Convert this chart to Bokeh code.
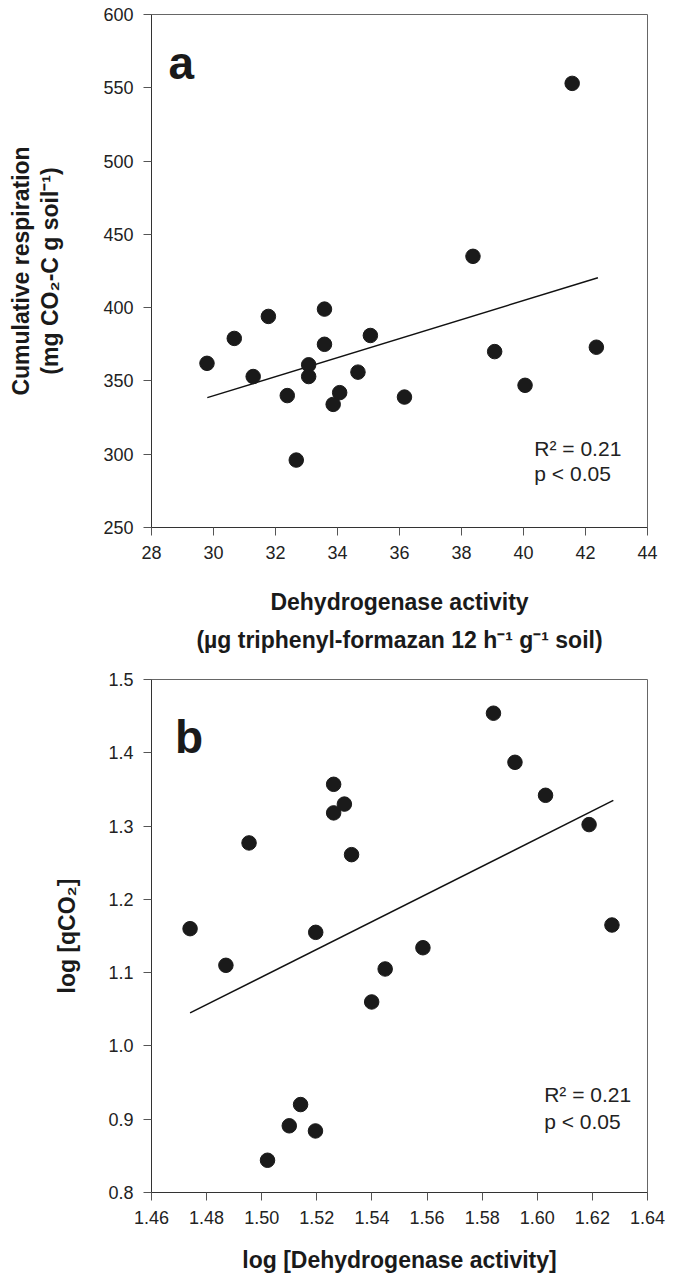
from bokeh.plotting import figure
from bokeh.layouts import column
from bokeh.models import (Range1d, LinearAxis, FixedTicker, Label,
                          NumeralTickFormatter, ColumnDataSource)
from bokeh.embed import file_html
from bokeh.resources import INLINE

# ---------------- data ----------------
# Panel a: dehydrogenase activity vs cumulative respiration
dh_activity = [29.79, 30.67, 31.28, 31.77, 32.38, 32.67, 33.07, 33.07, 33.58, 33.58,
               33.86, 34.07, 34.66, 35.06, 36.16, 38.37, 39.07, 40.05, 41.57, 42.35]
cum_resp = [362, 379, 353, 394, 340, 296, 361, 353, 399, 375,
            334, 342, 356, 381, 339, 435, 370, 347, 553, 373]
fit_a_x = [29.8, 42.4]
fit_a_y = [338.6, 420.4]
xticks_a = [28, 30, 32, 34, 36, 38, 40, 42, 44]
yticks_a = [250, 300, 350, 400, 450, 500, 550, 600]

# Panel b: log dehydrogenase vs log qCO2
log_dh = [1.474, 1.487, 1.4954, 1.5021, 1.510, 1.5141, 1.5195, 1.5196, 1.5261, 1.5261,
          1.530, 1.5326, 1.5399, 1.5448, 1.5585, 1.5841, 1.5919, 1.603, 1.6188, 1.6271]
log_qco2 = [1.160, 1.110, 1.277, 0.844, 0.891, 0.920, 0.884, 1.155, 1.357, 1.318,
            1.330, 1.261, 1.060, 1.105, 1.134, 1.454, 1.387, 1.342, 1.302, 1.165]
fit_b_x = [1.474, 1.6276]
fit_b_y = [1.045, 1.335]
xticks_b = [1.46, 1.48, 1.50, 1.52, 1.54, 1.56, 1.58, 1.60, 1.62, 1.64]
yticks_b = [0.8, 0.9, 1.0, 1.1, 1.2, 1.3, 1.4, 1.5]

stats_text = ["R² = 0.21", "p < 0.05"]

FONT = "Liberation Sans"
DOT = "#1a1a1a"


def base_axis_style(ax, ticks, fmt=None):
    ax.ticker = FixedTicker(ticks=ticks)
    if fmt:
        ax.formatter = NumeralTickFormatter(format=fmt)
    ax.major_label_text_font = FONT
    ax.major_label_text_font_size = "18px"
    ax.major_label_text_color = "#222222"
    ax.major_tick_in = 0
    ax.major_tick_out = 8
    ax.major_tick_line_color = "#555555"
    ax.minor_tick_line_color = None
    ax.axis_line_color = "#333333"
    ax.major_label_standoff = 10
    ax.axis_label_text_font = FONT
    ax.axis_label_text_font_style = "bold"
    ax.axis_label_text_font_size = "23px"
    ax.axis_label_text_color = "#1a1a1a"


def label_only_axis(label, standoff):
    ax = LinearAxis(ticker=FixedTicker(ticks=[]), axis_label=label)
    ax.axis_line_color = None
    ax.major_tick_line_color = None
    ax.minor_tick_line_color = None
    ax.major_tick_out = 0
    ax.major_tick_in = 0
    ax.major_label_standoff = 0
    ax.major_label_text_font_size = "0px"
    ax.axis_label_standoff = standoff
    ax.axis_label_text_font = FONT
    ax.axis_label_text_font_style = "bold"
    ax.axis_label_text_font_size = "23px"
    ax.axis_label_text_color = "#1a1a1a"
    return ax


def make_panel(xs, ys, fx, fy, xr, yr, xt, yt, xfmt, yfmt, w, h, bl, bt, br, bb):
    p = figure(width=w, height=h, x_range=Range1d(*xr), y_range=Range1d(*yr),
               output_backend="svg", toolbar_location=None,
               min_border_left=bl, min_border_top=bt, min_border_right=br,
               min_border_bottom=bb)
    p.grid.visible = False
    p.outline_line_color = "#666666"
    p.outline_line_width = 1
    p.background_fill_color = "white"
    p.border_fill_color = "white"
    base_axis_style(p.xaxis[0], xt, xfmt)
    base_axis_style(p.yaxis[0], yt, yfmt)
    p.line(fx, fy, line_color="#111111", line_width=1.5)
    src = ColumnDataSource(dict(x=xs, y=ys))
    p.scatter("x", "y", source=src, size=14.5, fill_color=DOT, line_color=DOT)
    return p


# ---------------- panel a ----------------
pa = make_panel(dh_activity, cum_resp, fit_a_x, fit_a_y, (28, 44), (250, 600),
                xticks_a, yticks_a, None, None, 670, 668, 151, 14, 19, 141)
pa.xaxis[0].axis_label = "Dehydrogenase activity"
pa.xaxis[0].axis_label_standoff = 27
pa.add_layout(label_only_axis("(µg triphenyl-formazan 12 h⁻¹ g⁻¹ soil)", 9), "below")
pa.yaxis[0].axis_label = "(mg CO₂-C g soil⁻¹)"
pa.yaxis[0].axis_label_standoff = 37
pa.add_layout(label_only_axis("Cumulative respiration", 1), "left")

pa.add_layout(Label(x=28.55, y=567, text="a", text_font=FONT, text_font_style="bold",
                    text_font_size="46px", text_color="#1a1a1a", text_baseline="alphabetic"))
pa.add_layout(Label(x=40.35, y=304, text=stats_text[0], text_font=FONT,
                    text_font_size="21px", text_color="#222222", text_baseline="alphabetic"))
pa.add_layout(Label(x=40.35, y=287, text=stats_text[1], text_font=FONT,
                    text_font_size="21px", text_color="#222222", text_baseline="alphabetic"))

# ---------------- panel b ----------------
pb = make_panel(log_dh, log_qco2, fit_b_x, fit_b_y, (1.46, 1.64), (0.8, 1.5),
                xticks_b, yticks_b, "0.00", "0.0", 670, 610, 148, 11, 23, 86)
pb.xaxis[0].axis_label = "log [Dehydrogenase activity]"
pb.xaxis[0].axis_label_standoff = 20
pb.yaxis[0].axis_label = "log [qCO₂]"
pb.yaxis[0].axis_label_standoff = 25

pb.add_layout(Label(x=1.4685, y=1.421, text="b", text_font=FONT, text_font_style="bold",
                    text_font_size="46px", text_color="#1a1a1a", text_baseline="alphabetic"))
pb.add_layout(Label(x=1.6025, y=0.934, text=stats_text[0], text_font=FONT,
                    text_font_size="21px", text_color="#222222", text_baseline="alphabetic"))
pb.add_layout(Label(x=1.6025, y=0.897, text=stats_text[1], text_font=FONT,
                    text_font_size="21px", text_color="#222222", text_baseline="alphabetic"))

layout = column(pa, pb, spacing=0)
open("out.html", "w").write(file_html(layout, INLINE))
